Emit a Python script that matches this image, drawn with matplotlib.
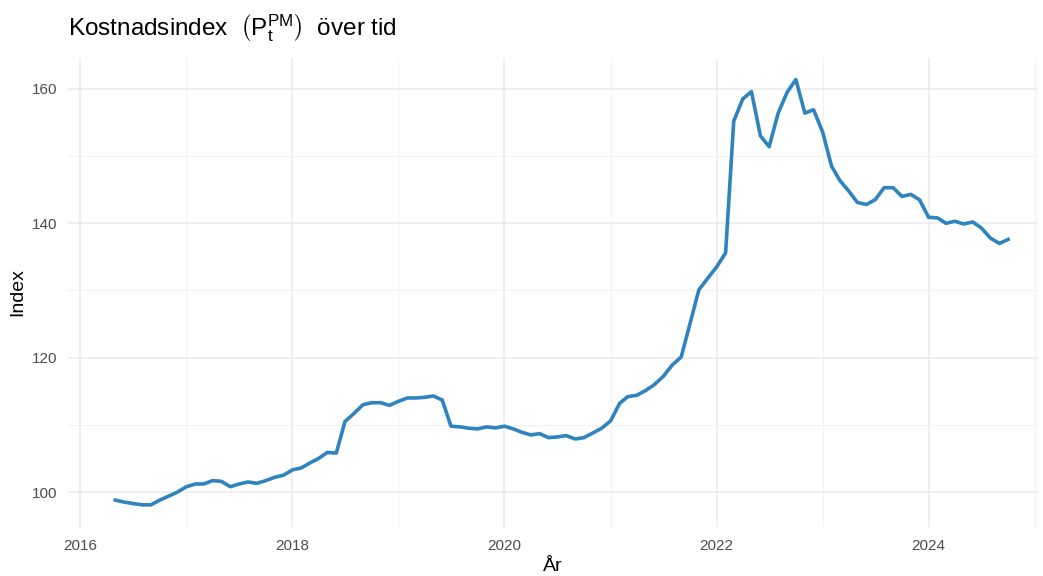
import matplotlib
matplotlib.use('Agg')
import matplotlib.pyplot as plt
import matplotlib.dates as mdates
import pandas as pd

# monthly cost index, May 2016 - Oct 2024
start_month = '2016-05-01'
index_values = [
    98.8, 98.5, 98.3, 98.1, 98.1, 98.8, 99.4, 100.0,                          # 2016
    100.8, 101.2, 101.2, 101.7, 101.6, 100.8, 101.2, 101.5, 101.3, 101.7, 102.2, 102.5,  # 2017
    103.3, 103.6, 104.3, 105.0, 105.9, 105.8, 110.5, 111.7, 113.0, 113.3, 113.3, 112.9,  # 2018
    113.5, 114.0, 114.0, 114.1, 114.3, 113.7, 109.8, 109.7, 109.5, 109.4, 109.7, 109.55,  # 2019
    109.8, 109.4, 108.9, 108.5, 108.7, 108.1, 108.2, 108.4, 107.9, 108.1, 108.8, 109.5,  # 2020
    110.6, 113.2, 114.2, 114.4, 115.1, 116.0, 117.2, 118.9, 120.1, 125.0, 130.1, 131.8,  # 2021
    133.5, 135.6, 155.2, 158.5, 159.6, 153.0, 151.4, 156.4, 159.5, 161.4, 156.4, 156.9,  # 2022
    153.6, 148.5, 146.4, 144.8, 143.1, 142.8, 143.5, 145.3, 145.3, 144.0, 144.3, 143.5,  # 2023
    140.9, 140.8, 140.0, 140.3, 139.9, 140.2, 139.3, 137.8, 137.0, 137.6,              # 2024
]
major_years = [2016, 2018, 2020, 2022, 2024]
minor_years = [2017, 2019, 2021, 2023, 2025]
y_ticks = [100, 120, 140, 160]
y_minor = [110, 130, 150]

months = pd.date_range(start_month, periods=len(index_values), freq='MS')

plt.rcParams['font.family'] = ['Liberation Sans', 'DejaVu Sans']
plt.rcParams['mathtext.fontset'] = 'custom'
plt.rcParams['mathtext.rm'] = 'Liberation Sans'
plt.rcParams['mathtext.it'] = 'Liberation Sans:italic'

fig = plt.figure(figsize=(10.43, 5.76), dpi=100)
ax = fig.add_axes([68 / 1043, 49 / 576, 970 / 1043, 469 / 576])

ax.plot(months, index_values, color='#2F83BF', linewidth=2.6, solid_joinstyle='round')

ax.set_xlim(pd.Timestamp('2015-11-20'), pd.Timestamp('2025-01-12'))
ax.set_ylim(94.8, 164.6)

ax.set_xticks([pd.Timestamp(f'{y}-01-01') for y in major_years])
ax.set_xticks([pd.Timestamp(f'{y}-01-01') for y in minor_years], minor=True)
ax.xaxis.set_major_formatter(mdates.DateFormatter('%Y'))
ax.set_yticks(y_ticks)
ax.set_yticks(y_minor, minor=True)

ax.grid(which='major', color='#EBEBEB', linewidth=1.1)
ax.grid(which='minor', color='#F2F2F2', linewidth=0.8)
ax.set_axisbelow(True)
for s in ax.spines.values():
    s.set_visible(False)
ax.tick_params(which='both', length=0)
ax.tick_params(axis='x', labelsize=11, labelcolor='#4D4D4D', pad=9)
ax.tick_params(axis='y', labelsize=11, labelcolor='#4D4D4D', pad=8)

ax.set_xlabel('År', fontsize=14, labelpad=3)
ax.set_ylabel('Index', fontsize=14, labelpad=4)

fig.text(68 / 1043, 1 - 28 / 576, r'Kostnadsindex  $\left(\mathrm{P_t^{PM}}\right)$  över tid',
         fontsize=17.5, ha='left', va='center')

fig.savefig('out.png', dpi=100)
